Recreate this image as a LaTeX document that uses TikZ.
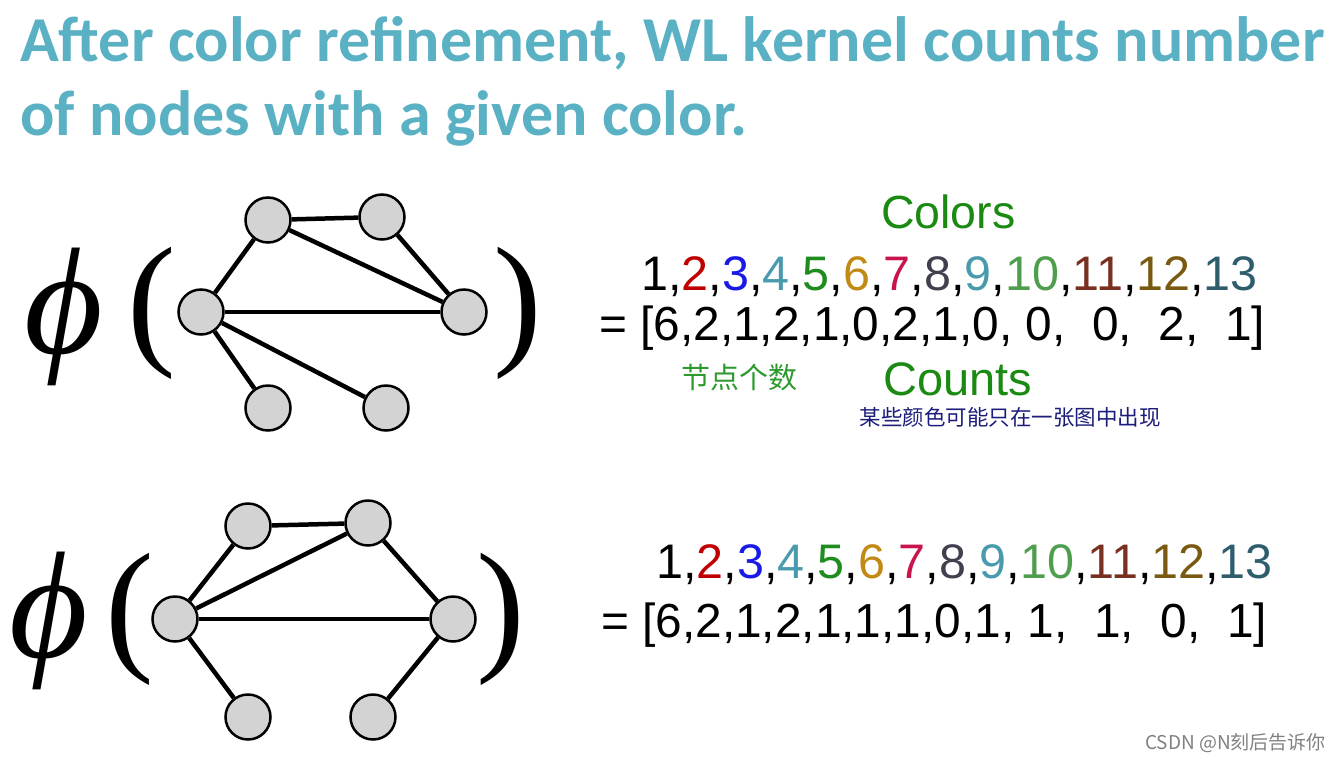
\documentclass[tikz,border=0pt]{standalone}
\usepackage{fontspec}
\setmainfont{Liberation Sans}
\newfontfamily\titlefont{Carlito}
\newfontfamily\serifont{Liberation Serif}
\newfontfamily\cjk{Noto Sans CJK SC}
\definecolor{titlec}{HTML}{5BB1C4}
\definecolor{cgreen}{HTML}{1A8A12}
\definecolor{ctwo}{HTML}{C00000}
\definecolor{cthree}{HTML}{1A1AE6}
\definecolor{cfour}{HTML}{4A9AAE}
\definecolor{cfive}{HTML}{1E8C1E}
\definecolor{csix}{HTML}{C08A14}
\definecolor{cseven}{HTML}{C8144A}
\definecolor{ceight}{HTML}{40404E}
\definecolor{cnine}{HTML}{4A9AAE}
\definecolor{cten}{HTML}{4E9E4E}
\definecolor{celeven}{HTML}{7A3020}
\definecolor{ctwelve}{HTML}{7A5A10}
\definecolor{cthirteen}{HTML}{2E5E6E}
\definecolor{hwgreen}{HTML}{2E9A2E}
\definecolor{hwnavy}{HTML}{1C1C7A}
\definecolor{nodegray}{HTML}{D3D3D3}
\newcommand{\colorrow}{1,{\color{ctwo}2},{\color{cthree}3},{\color{cfour}4},{\color{cfive}5},{\color{csix}6},{\color{cseven}7},{\color{ceight}8},{\color{cnine}9},{\color{cten}10},{\color{celeven}11},{\color{ctwelve}12},{\color{cthirteen}13}}
\begin{document}
\begin{tikzpicture}[x=1pt,y=-1pt,
  gnode/.style={circle,draw=black,fill=nodegray,line width=2.5pt,minimum size=45pt,inner sep=0pt},
  edge/.style={line width=4.5pt,black},
  txt/.style={inner sep=0pt,anchor=base west},
  nums/.style={txt,font=\fontsize{48.5}{48.5}\selectfont},
  cnts/.style={txt,font=\fontsize{47.8}{47.8}\selectfont},
  phis/.style={inner sep=0pt,anchor=center,font=\serifont\itshape\fontsize{152}{152}\selectfont},
  paren/.style={inner sep=0pt,anchor=center,font=\serifont\fontsize{146}{146}\selectfont}]
\useasboundingbox (0,0) rectangle (1342,761);
% title
\node[txt,font=\titlefont\bfseries\fontsize{64}{64}\selectfont,text=titlec] (t1) at (20,61) {After color refinement, WL kernel counts number};
\node[txt,font=\titlefont\bfseries\fontsize{64}{64}\selectfont,text=titlec] (t2) at (20,135) {of nodes with a given color.};
% phi and parens
\node[phis] (phi1) at (64,317) {ϕ};
\node[paren] (lp1) at (152,313) {(};
\node[paren] (rp1) at (518,313) {)};
\node[phis] (phi2) at (49,621) {ϕ};
\node[paren] (lp2) at (130,619) {(};
\node[paren] (rp2) at (501,619) {)};
% graph 1
\node[gnode] (a1) at (268,220) {};
\node[gnode] (b1) at (382,217) {};
\node[gnode] (c1) at (201,312) {};
\node[gnode] (d1) at (464,312) {};
\node[gnode] (e1) at (268,408) {};
\node[gnode] (f1) at (386,408) {};
\draw[edge] (a1) -- (b1);
\draw[edge] (a1) -- (c1);
\draw[edge] (a1) -- (d1);
\draw[edge] (b1) -- (d1);
\draw[edge] (c1) -- (d1);
\draw[edge] (c1) -- (e1);
\draw[edge] (c1) -- (f1);
% graph 2
\node[gnode] (a2) at (248,526) {};
\node[gnode] (b2) at (368,523) {};
\node[gnode] (c2) at (175,619) {};
\node[gnode] (d2) at (453,619) {};
\node[gnode] (e2) at (248,717) {};
\node[gnode] (f2) at (373,717) {};
\draw[edge] (a2) -- (b2);
\draw[edge] (a2) -- (c2);
\draw[edge] (b2) -- (c2);
\draw[edge] (b2) -- (d2);
\draw[edge] (c2) -- (d2);
\draw[edge] (c2) -- (e2);
\draw[edge] (d2) -- (f2);
% labels
\node[txt,font=\fontsize{46.5}{46.5}\selectfont,text=cgreen] (colors) at (881,228) {Colors};
\node[txt,font=\fontsize{47}{47}\selectfont,text=cgreen] (counts) at (883,395) {Counts};
\node[nums] (row1) at (641,290) {\colorrow};
\node[cnts] (cnt1) at (599,340) {= [6,2,1,2,1,0,2,1,0, 0,\ \ 0,\ \ 2,\ \ 1]};
\node[nums] (row2) at (656,578) {\colorrow};
\node[cnts] (cnt2) at (601,637) {= [6,2,1,2,1,1,1,0,1, 1,\ \ 1,\ \ 0,\ \ 1]};
\node[inner sep=0pt,font=\cjk\fontsize{29}{29}\selectfont,text=hwgreen] (hw1) at (739,378) {节点个数};
\node[inner sep=0pt,font=\cjk\fontsize{21.5}{21.5}\selectfont,text=hwnavy] (hw2) at (1010,417) {某些颜色可能只在一张图中出现};
\node[inner sep=0pt,anchor=east,font=\cjk\fontsize{19}{19}\selectfont,text=gray] (wm) at (1326,743) {CSDN @N刻后告诉你};
\end{tikzpicture}
\end{document}
